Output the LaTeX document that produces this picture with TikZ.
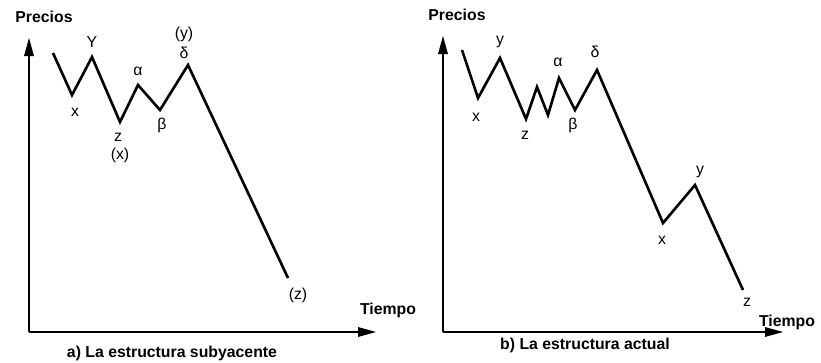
\documentclass[tikz,border=0pt]{standalone}
\usepackage{fontspec}
\setmainfont{Liberation Sans}
\begin{document}
\begin{tikzpicture}[x=0.02cm,y=-0.02cm]
    \tikzstyle{eje}=[line width=1.3pt]
    \tikzstyle{wave}=[line width=1.5pt, line join=miter]
    \tikzstyle{lbl}=[font=\small, inner sep=0pt]
    \tikzstyle{ttl}=[font=\small\bfseries, inner sep=0pt]
    \useasboundingbox (0,0) rectangle (821,362);
    % (a) la estructura subyacente
    \coordinate (oa) at (29,332);
    \coordinate (ya) at (29,38);
    \coordinate (xa) at (376,332);
    \draw[eje] (oa) -- ++(0,-280);
    \draw[eje] (oa) -- ++(332,0);
    \fill (ya) -- ++(-5,18) -- ++(10,0) -- cycle;
    \fill (xa) -- ++(-18,-5) -- ++(0,10) -- cycle;
    \node[ttl] (pa) at (44,17) {Precios};
    \node[ttl] (ta) at (388,310) {Tiempo};
    \node[ttl] (ca) at (172,353) {a) La estructura subyacente};
    \coordinate (a0) at (53,53);
    \coordinate (a1) at (72,95);
    \coordinate (a2) at (92,57);
    \coordinate (a3) at (120,122);
    \coordinate (a4) at (138,85);
    \coordinate (a5) at (160,110);
    \coordinate (a6) at (188,65);
    \coordinate (a7) at (288,278);
    \draw[wave] (a0) -- (a1) -- (a2) -- (a3) -- (a4) -- (a5) -- (a6) -- (a7);
    \node[lbl] (la1) at (75,112) {x};
    \node[lbl] (la2) at (92,42) {Y};
    \node[lbl] (la3) at (118,137) {z};
    \node[lbl] (la3b) at (120,155) {(x)};
    \node[lbl] (la4) at (138,71) {α};
    \node[lbl] (la5) at (162,125) {β};
    \node[lbl] (la6) at (184,53) {δ};
    \node[lbl] (la6b) at (184,34) {(y)};
    \node[lbl] (la7) at (298,295) {(z)};
    % (b) la estructura actual
    \coordinate (ob) at (443,332);
    \coordinate (yb) at (443,36);
    \coordinate (xb) at (783,332);
    \draw[eje] (ob) -- ++(0,-282);
    \draw[eje] (ob) -- ++(326,0);
    \fill (yb) -- ++(-5,18) -- ++(10,0) -- cycle;
    \fill (xb) -- ++(-18,-5) -- ++(0,10) -- cycle;
    \node[ttl] (pb) at (457,15) {Precios};
    \node[ttl] (tb) at (787,322) {Tiempo};
    \node[ttl] (cb) at (585,345) {b) La estructura actual};
    \coordinate (b0) at (462,50);
    \coordinate (b1) at (478,98);
    \coordinate (b2) at (500,58);
    \coordinate (b3) at (526,119);
    \coordinate (b4) at (537,87);
    \coordinate (b5) at (548,115);
    \coordinate (b6) at (559,78);
    \coordinate (b7) at (575,110);
    \coordinate (b8) at (597,70);
    \coordinate (b9) at (663,223);
    \coordinate (b10) at (695,185);
    \coordinate (b11) at (743,290);
    \draw[wave] (b0) -- (b1) -- (b2) -- (b3) -- (b4) -- (b5) -- (b6) -- (b7) -- (b8) -- (b9) -- (b10) -- (b11);
    \node[lbl] (lb1) at (476,117) {x};
    \node[lbl] (lb2) at (500,42) {y};
    \node[lbl] (lb3) at (525,135) {z};
    \node[lbl] (lb6) at (558,62) {α};
    \node[lbl] (lb7) at (573,125) {β};
    \node[lbl] (lb8) at (595,52) {δ};
    \node[lbl] (lb9) at (662,240) {x};
    \node[lbl] (lb10) at (700,172) {y};
    \node[lbl] (lb11) at (747,302) {z};
\end{tikzpicture}
\end{document}
